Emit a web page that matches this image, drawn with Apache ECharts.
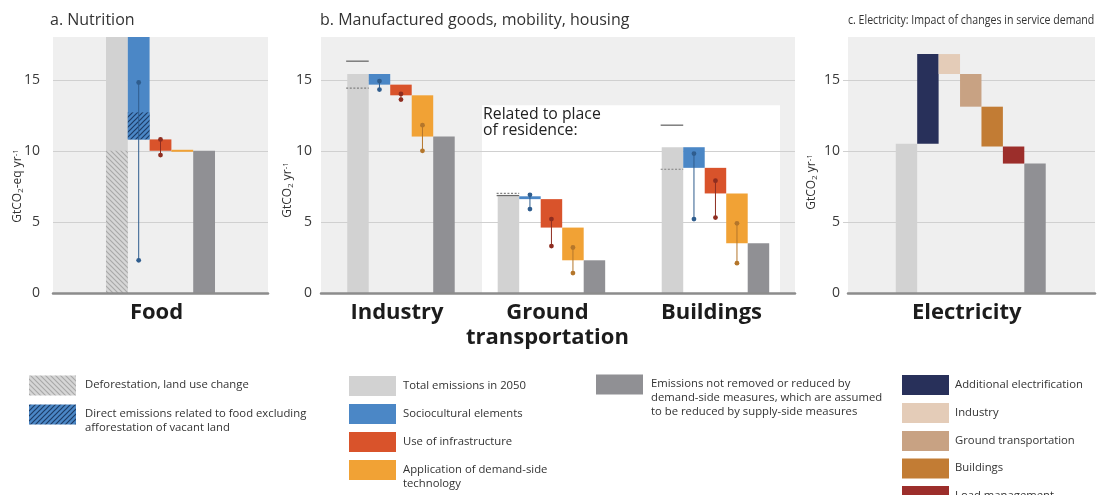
<!DOCTYPE html>
<html>
<head>
<meta charset="utf-8">
<script src="https://cdn.jsdelivr.net/npm/echarts@6/dist/echarts.min.js"></script>
<style>
  html, body { margin: 0; padding: 0; background: #ffffff; }
  #chart { width: 1097px; height: 495px; }
</style>
</head>
<body>
<div id="chart"></div>
<script>
// ---------------- values (GtCO2-eq / GtCO2 per year, 2050) ----------------
const yTicks = [0, 5, 10, 15];

const sectors = ['Food', 'Industry', 'Ground transportation', 'Buildings'];
const sectorLabels = ['Food', 'Industry', 'Ground\ntransportation', 'Buildings'];
const totalEmissions2050 = [19.0, 15.4, 6.8, 10.25];
const afterSociocultural = [10.8, 14.65, 6.6, 8.8];
const afterInfrastructure = [10.0, 13.9, 4.6, 7.0];
const afterTechnology = [10.0, 11.0, 2.3, 3.5];   // left for supply-side measures
const socioRange = [[14.8, 2.3], [14.9, 14.3], [6.9, 5.9], [9.8, 5.2]];
const infraRange = [[10.8, 9.7], [14.0, 13.6], [5.2, 3.3], [7.9, 5.3]];
const techRange = [null, [11.8, 10.0], [3.2, 1.4], [4.9, 2.1]];
const upperEstimate = [null, 16.3, 6.85, 11.8];
const lowerEstimate = [null, 14.4, 7.0, 8.7];
const landUseChange = 10.0;                       // hatched part of the food total
const directFoodEmissions = [10.8, 12.7];         // hatched part of the food sociocultural step
const residenceAreaTop = 13.2;

const electricityLabel = 'Electricity';
const electricitySteps = ['Additional electrification', 'Industry', 'Ground transportation', 'Buildings', 'Load management'];
const electricityLevels = [10.5, 16.8, 15.4, 13.1, 10.3, 9.1];

// ---------------- layout ----------------
const GRIDS = [
  { left: 53,  top: 37, width: 215, height: 256, xMin: -2.93, xMax: 6.93 },
  { left: 321, top: 37, width: 474, height: 256, xMin: -1.72, xMax: 20.33 },
  { left: 848, top: 37, width: 247, height: 256, xMin: -2.73, xMax: 8.80 }
];
const sectorGrid = [0, 1, 1, 1];
const sectorSlot = [0, 0, 7, 14.63];   // x position (in bar widths) of each sector's first bar
const residenceSpan = [5.77, 19.63];

// ---------------- colours ----------------
const C = {
  bg: '#efefef',
  grid: '#d0d0d0',
  axis: '#8c8c8c',
  total: '#d2d2d2',
  socio: '#4b87c6',
  infra: '#d9532b',
  tech: '#f1a235',
  remain: '#909094',
  socioDot: '#2f5d8e',
  infraDot: '#8e2d20',
  techDot: '#b4762b',
  elec: ['#28305a', '#e4ccb8', '#c8a283', '#c27c34', '#9c2e2b'],
  text: '#222222'
};
const FONT = '"Open Sans", "Noto Sans", sans-serif';

function hatch(bg, fg, size, dir, lw) {
  const c = document.createElement('canvas');
  c.width = size; c.height = size;
  const g = c.getContext('2d');
  g.fillStyle = bg; g.fillRect(0, 0, size, size);
  g.strokeStyle = fg; g.lineWidth = lw;
  g.beginPath();
  if (dir === '\\') {
    g.moveTo(-1, -1); g.lineTo(size + 1, size + 1);
    g.moveTo(-1, size - 1); g.lineTo(1, size + 1);
    g.moveTo(size - 1, -1); g.lineTo(size + 1, 1);
  } else {
    g.moveTo(-1, size + 1); g.lineTo(size + 1, -1);
    g.moveTo(-1, 1); g.lineTo(1, -1);
    g.moveTo(size - 1, size + 1); g.lineTo(size + 1, size - 1);
  }
  g.stroke();
  return { image: c, repeat: 'repeat' };
}
const grayHatch = hatch('#d6d6d6', '#a8a8a8', 5, '\\', 1.1);
const blueHatch = hatch('#4b87c6', '#1d3c66', 5, '/', 1.2);

// ---------------- renderers ----------------
function barRender(fill) {
  return function (params, api) {
    const x = api.value(0), lo = api.value(1), hi = api.value(2);
    const a = api.coord([x - 0.5, hi]);
    const b = api.coord([x + 0.5, lo]);
    let y = a[1], h = b[1] - a[1];
    if (h < 2) { y -= (2 - h) / 2; h = 2; }
    return { type: 'rect', shape: { x: a[0], y: y, width: b[0] - a[0], height: h }, style: { fill: fill } };
  };
}
function bars(name, gi, fill, data, z) {
  return {
    type: 'custom', name: name, coordinateSystem: 'cartesian2d',
    xAxisIndex: gi, yAxisIndex: gi, clip: true, silent: true, z: z || 3,
    encode: { x: 0, y: [1, 2] }, data: data, renderItem: barRender(fill)
  };
}
function rangeRender(color) {
  return function (params, api) {
    const x = api.value(0);
    const a = api.coord([x, api.value(1)]);
    const b = api.coord([x, api.value(2)]);
    return {
      type: 'group', children: [
        { type: 'line', shape: { x1: a[0], y1: a[1], x2: b[0], y2: b[1] }, style: { stroke: color, lineWidth: 1 } },
        { type: 'circle', shape: { cx: a[0], cy: a[1], r: 2.4 }, style: { fill: color } },
        { type: 'circle', shape: { cx: b[0], cy: b[1], r: 2.4 }, style: { fill: color } }
      ]
    };
  };
}
function ranges(name, gi, color, data) {
  return {
    type: 'custom', name: name, coordinateSystem: 'cartesian2d',
    xAxisIndex: gi, yAxisIndex: gi, clip: true, silent: true, z: 5,
    encode: { x: 0, y: [1, 2] }, data: data, renderItem: rangeRender(color)
  };
}
function estimateRender(dashed) {
  return function (params, api) {
    const x = api.value(0), v = api.value(1);
    const a = api.coord([x - 0.55, v]), b = api.coord([x + 0.5, v]);
    return {
      type: 'line', shape: { x1: a[0], y1: a[1], x2: b[0], y2: b[1] },
      style: dashed ? { stroke: '#808080', lineWidth: 1.2, lineDash: [2, 1.6] } : { stroke: '#6a6a6a', lineWidth: 1.3 }
    };
  };
}
function gridLineRender(extendLeft) {
  return function (params, api) {
    const cs = params.coordSys;
    const y = Math.round(api.coord([0, api.value(1)])[1]) + 0.5;
    return { type: 'line', shape: { x1: cs.x - extendLeft, y1: y, x2: cs.x + cs.width, y2: y }, style: { stroke: C.grid, lineWidth: 1 } };
  };
}
function labelRender(texts) {
  return function (params, api) {
    const p = api.coord([api.value(0), 0]);
    return {
      type: 'text', x: p[0] - 4, y: p[1] + 7,
      style: { text: texts[api.value(1)], align: 'center', verticalAlign: 'top', fontFamily: FONT, fontWeight: 'bold', fontSize: 22, lineHeight: 25, fill: '#1c1c1c' }
    };
  };
}

// ---------------- series ----------------
const series = [];

// background grid lines (and tick stubs on the electricity panel)
GRIDS.forEach(function (g, gi) {
  series.push({
    type: 'custom', coordinateSystem: 'cartesian2d', xAxisIndex: gi, yAxisIndex: gi,
    silent: true, clip: false, z: 2, encode: { x: 0, y: 1 },
    data: yTicks.filter(function (t) { return t > 0; }).map(function (t) { return [g.xMin, t]; }),
    renderItem: gridLineRender(gi === 2 ? 5 : 0)
  });
});

// white block for emissions related to place of residence
series.push({
  type: 'custom', coordinateSystem: 'cartesian2d', xAxisIndex: 1, yAxisIndex: 1,
  silent: true, clip: true, z: 1,
  data: [[residenceSpan[0], residenceSpan[1], residenceAreaTop]],
  renderItem: function (params, api) {
    const a = api.coord([api.value(0), api.value(2)]);
    const b = api.coord([api.value(1), 0]);
    return {
      type: 'group', children: [
        { type: 'rect', shape: { x: a[0], y: a[1], width: b[0] - a[0], height: b[1] - a[1] }, style: { fill: '#ffffff' } },
        { type: 'text', x: a[0] + 1, y: a[1] + 1, style: { text: 'Related to place\nof residence:', fontFamily: FONT, fontSize: 15.8, lineHeight: 16, fill: C.text, verticalAlign: 'top' } }
      ]
    };
  }
});

// demand-side waterfalls for food, industry, ground transportation and buildings
[0, 1].forEach(function (gi) {
  const idx = sectors.map(function (s, i) { return i; }).filter(function (i) { return sectorGrid[i] === gi; });
  const at = function (i, k) { return sectorSlot[i] + k; };
  series.push(bars('Total emissions in 2050', gi, C.total, idx.map(function (i) { return [at(i, 0), 0, totalEmissions2050[i]]; })));
  series.push(bars('Sociocultural elements', gi, C.socio, idx.map(function (i) { return [at(i, 1), afterSociocultural[i], totalEmissions2050[i]]; })));
  series.push(bars('Use of infrastructure', gi, C.infra, idx.map(function (i) { return [at(i, 2), afterInfrastructure[i], afterSociocultural[i]]; })));
  series.push(bars('Application of demand-side technology', gi, C.tech, idx.map(function (i) { return [at(i, 3), afterTechnology[i], afterInfrastructure[i]]; })));
  series.push(bars('Emissions not removed or reduced by demand-side measures', gi, C.remain, idx.map(function (i) { return [at(i, 4), 0, afterTechnology[i]]; })));

  series.push(ranges('Sociocultural range', gi, C.socioDot, idx.map(function (i) { return [at(i, 1)].concat(socioRange[i]); })));
  series.push(ranges('Infrastructure range', gi, C.infraDot, idx.map(function (i) { return [at(i, 2)].concat(infraRange[i]); })));
  const tr = idx.filter(function (i) { return techRange[i]; });
  if (tr.length) series.push(ranges('Technology range', gi, C.techDot, tr.map(function (i) { return [at(i, 3)].concat(techRange[i]); })));

  const ue = idx.filter(function (i) { return upperEstimate[i] != null; });
  if (ue.length) {
    series.push({ type: 'custom', coordinateSystem: 'cartesian2d', xAxisIndex: gi, yAxisIndex: gi, silent: true, z: 6,
      encode: { x: 0, y: 1 }, data: ue.map(function (i) { return [at(i, 0), upperEstimate[i]]; }), renderItem: estimateRender(false) });
    series.push({ type: 'custom', coordinateSystem: 'cartesian2d', xAxisIndex: gi, yAxisIndex: gi, silent: true, z: 6,
      encode: { x: 0, y: 1 }, data: ue.map(function (i) { return [at(i, 0), lowerEstimate[i]]; }), renderItem: estimateRender(true) });
  }

  series.push({ type: 'custom', coordinateSystem: 'cartesian2d', xAxisIndex: gi, yAxisIndex: gi, silent: true, clip: false, z: 6,
    encode: { x: 0, y: 1 }, data: idx.map(function (i) { return [at(i, 2), i]; }), renderItem: labelRender(sectorLabels) });
});

// hatched parts of the food bars
series.push(bars('Deforestation, land use change', 0, grayHatch, [[sectorSlot[0], 0, landUseChange]], 4));
series.push(bars('Direct emissions related to food excluding afforestation of vacant land', 0, blueHatch, [[sectorSlot[0] + 1, directFoodEmissions[0], directFoodEmissions[1]]], 4));

// electricity waterfall
series.push(bars('Total emissions in 2050', 2, C.total, [[0, 0, electricityLevels[0]]]));
electricitySteps.forEach(function (name, k) {
  const a = electricityLevels[k], b = electricityLevels[k + 1];
  series.push(bars(name, 2, C.elec[k], [[k + 1, Math.min(a, b), Math.max(a, b)]]));
});
series.push(bars('Emissions not removed or reduced by demand-side measures', 2, C.remain, [[electricitySteps.length + 1, 0, electricityLevels[electricityLevels.length - 1]]]));
series.push({ type: 'custom', coordinateSystem: 'cartesian2d', xAxisIndex: 2, yAxisIndex: 2, silent: true, clip: false, z: 6,
  encode: { x: 0, y: 1 }, data: [[3, 0]], renderItem: labelRender([electricityLabel]) });

// ---------------- axes ----------------
const labelMargins = [13, 9, 8];
const grid = GRIDS.map(function (g) {
  return { left: g.left, top: g.top, width: g.width, height: g.height, show: true, backgroundColor: C.bg, borderWidth: 0, containLabel: false };
});
const xAxis = GRIDS.map(function (g, gi) {
  return {
    type: 'value', gridIndex: gi, min: g.xMin, max: g.xMax, z: 10,
    axisLine: { show: true, onZero: false, lineStyle: { color: C.axis, width: 2.5 } },
    axisTick: { show: false }, axisLabel: { show: false }, splitLine: { show: false }
  };
});
const yAxis = GRIDS.map(function (g, gi) {
  return {
    type: 'value', gridIndex: gi, min: 0, max: 18, interval: 5, z: 10,
    axisLine: { show: false }, axisTick: { show: false }, splitLine: { show: false },
    axisLabel: { showMaxLabel: false, margin: labelMargins[gi], color: '#3a3a3a', fontSize: 14, fontFamily: FONT }
  };
});

// ---------------- titles, axis names, legend ----------------
function yTitle(x, y, text) {
  return {
    type: 'text', x: x, y: y, rotation: Math.PI / 2,
    style: {
      text: text, fontFamily: FONT, fontSize: 12, fill: '#333', align: 'center', verticalAlign: 'middle',
      rich: {
        m: { fontFamily: FONT, fontSize: 12, fill: '#333' },
        sub: { fontFamily: FONT, fontSize: 8, fill: '#333', verticalAlign: 'bottom', padding: [4, 0, 0, 0] },
        sup: { fontFamily: FONT, fontSize: 8, fill: '#333', verticalAlign: 'top', padding: [0, 0, 5, 0] }
      }
    }
  };
}
function title(x, text, size, sx) {
  return { type: 'text', x: x, y: 20, scaleX: sx || 1, style: { text: text, fontFamily: FONT, fontSize: size, fill: '#333', verticalAlign: 'middle' } };
}

const legendColumns = [
  { swatchX: 29, textX: 85, rows: [385.5, 414.5], items: [
    { name: 'Deforestation, land use change', fill: grayHatch },
    { name: 'Direct emissions related to food excluding\nafforestation of vacant land', fill: blueHatch } ] },
  { swatchX: 349, textX: 403, rows: [386, 414, 442, 470], items: [
    { name: 'Total emissions in 2050', fill: C.total },
    { name: 'Sociocultural elements', fill: C.socio },
    { name: 'Use of infrastructure', fill: C.infra },
    { name: 'Application of demand-side\ntechnology', fill: C.tech } ] },
  { swatchX: 596, textX: 651, rows: [384.5], items: [
    { name: 'Emissions not removed or reduced by\ndemand-side measures, which are assumed\nto be reduced by supply-side measures', fill: C.remain } ] },
  { swatchX: 902, textX: 955, rows: [385, 413, 441, 468.5, 496], items: electricitySteps.map(function (s, k) { return { name: s, fill: C.elec[k] }; }) }
];
const legendEls = [];
legendColumns.forEach(function (col) {
  col.items.forEach(function (it, r) {
    const cy = col.rows[r];
    legendEls.push({ type: 'rect', shape: { x: col.swatchX, y: cy - 10, width: 47, height: 20 }, style: { fill: it.fill } });
    legendEls.push({ type: 'text', x: col.textX, y: cy - 7.5, style: { text: it.name, fontFamily: FONT, fontSize: 11.3, lineHeight: 14, fill: '#333', verticalAlign: 'top' } });
  });
});

const graphic = [
  title(50, 'a. Nutrition', 16),
  title(320, 'b. Manufactured goods, mobility, housing', 16),
  title(848, 'c. Electricity: Impact of changes in service demand', 13, 0.815),
  yTitle(18, 186, '{m|GtCO}{sub|2}{m|-eq yr}{sup|-1}'),
  yTitle(288, 190, '{m|GtCO}{sub|2}{m| yr}{sup|-1}'),
  yTitle(812, 182, '{m|GtCO}{sub|2}{m| yr}{sup|-1}')
].concat(legendEls);

const chart = echarts.init(document.getElementById('chart'), null, { renderer: 'canvas' });
chart.setOption({
  animation: false,
  backgroundColor: '#ffffff',
  textStyle: { fontFamily: FONT },
  grid: grid,
  xAxis: xAxis,
  yAxis: yAxis,
  series: series,
  graphic: { elements: graphic }
});
</script>
</body>
</html>
